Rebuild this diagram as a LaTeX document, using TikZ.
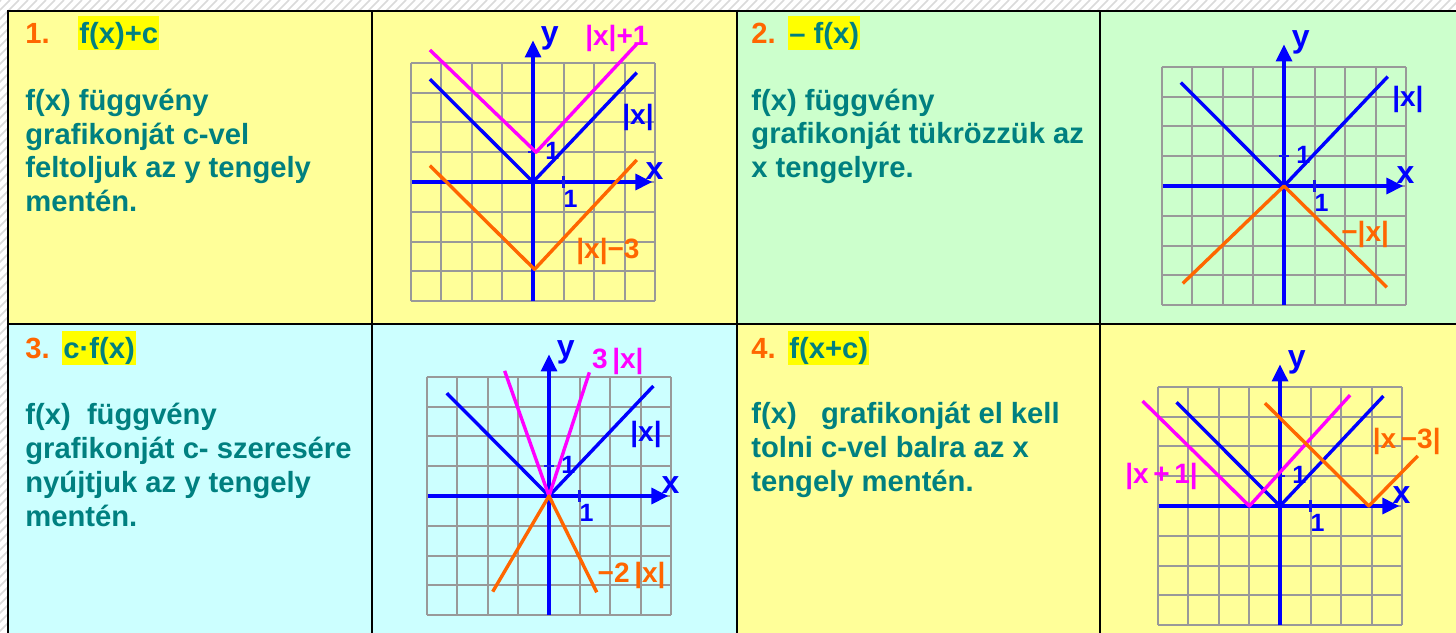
\documentclass[tikz,border=0pt]{standalone}
\usepackage{fontspec}
\setmainfont{Liberation Sans}
\usepackage{tikz}
\usetikzlibrary{arrows.meta, positioning}
\definecolor{cellyellow}{HTML}{FFFF99}
\definecolor{cellgreen}{HTML}{CCFFCC}
\definecolor{cellcyan}{HTML}{CCFFFF}
\definecolor{txtteal}{HTML}{008080}
\definecolor{numorange}{HTML}{FF6600}
\definecolor{hlyellow}{HTML}{FFFF00}
\definecolor{gridgray}{HTML}{999999}
\definecolor{hatchgray}{HTML}{DADADA}
\definecolor{plotblue}{HTML}{0000FF}
\definecolor{plotpink}{HTML}{FF00FF}
\definecolor{plotorange}{HTML}{FF6600}
\newcommand{\celltext}{\fontsize{14.6}{16.85}\selectfont\bfseries}
\tikzset{
  hatch/.style={hatchgray, line width=0.8pt},
  rule/.style={black, line width=1pt},
  num/.style={anchor=base west, inner sep=0pt, text=numorange, font=\celltext},
  hl/.style={anchor=base west, inner xsep=0.5pt, inner ysep=0pt, fill=hlyellow,
    text=txtteal, text height=13.5pt, text depth=3.25pt, font=\celltext},
  body/.style={anchor=base west, inner sep=0pt, align=left, text=txtteal, font=\celltext},
  gridline/.style={gridgray, line width=1pt},
  axis/.style={plotblue, line width=1.65pt, -{Triangle[length=8.5pt, width=8pt]}},
  tick/.style={plotblue!80!gray, line width=1.2pt},
  curve/.style={line width=1.7pt, line join=round},
  axlbl/.style={inner sep=0pt, text=plotblue, font=\fontsize{16}{16}\selectfont\bfseries},
  onelbl/.style={inner sep=0pt, text=plotblue, font=\fontsize{12.5}{12.5}\selectfont\bfseries},
  lbl/.style={inner sep=0pt, font=\fontsize{14}{14}\selectfont\bfseries}
}
% grid, axes and unit marks of one small plot
\newcommand{\plotframe}[1]{%
  \foreach \k in {-4,...,4} {
    \draw[gridline] (\k,-4) -- (\k,4);
    \draw[gridline] (-4,\k) -- (4,\k);
  }
  \draw[axis] (-3.97,0) -- (3.9,0);
  \draw[axis] (0,-4) -- (0,4.75);
  \draw[tick] (1,-0.2) -- (1,0.2);
  \draw[tick] (-0.17,1) -- (0.17,1);
  \node[axlbl] (#1-x) at (3.97,0.37) {x};
  \node[axlbl] (#1-y) at (0.55,4.83) {y};
  \node[onelbl] (#1-onex) at (1.23,-0.57) {1};
  \node[onelbl] (#1-oney) at (0.63,1.03) {1};
}
\begin{document}
\begin{tikzpicture}[x=0.5pt, y=-0.5pt]
\useasboundingbox (0,0) rectangle (1456,632);
\clip (0,0) rectangle (1456,632);

% Background hatching
\fill[white] (0,0) rectangle (1456,632);
\begin{scope}
  \clip (0,0) rectangle (1456,11) (0,0) rectangle (8,632);
  \foreach \i in {-640,-631,...,1460}
    \draw[hatch] (\i,632) -- ++(632,-632);
\end{scope}

% Table cells
\fill[cellyellow] (8,11) rectangle (737,324);
\fill[cellgreen] (737,11) rectangle (1460,324);
\fill[cellcyan] (8,324) rectangle (737,640);
\fill[cellyellow] (737,324) rectangle (1460,640);
\draw[rule] (8,640) -- (8,11) -- (1460,11);
\draw[rule] (8,324) -- (1460,324);
\foreach \cx in {372,737,1099.5}
  \draw[rule] (\cx,11) -- (\cx,640);

% Texts (body nodes sit on the baseline of their last line)
\node[num] (n1) at (25,43) {1.};
\node[hl] (h1) at (78,43) {f(x)+c};
\node[body] (b1) at (25,211.5) {f(x) függvény\\grafikonját c-vel\\feltoljuk az y tengely\\mentén.};

\node[num] (n2) at (751,43) {2.};
\node[hl] (h2) at (788,43) {– f(x)};
\node[body] (b2) at (751,177.5) {f(x) függvény\\grafikonját tükrözzük az\\x tengelyre.};

\node[num] (n3) at (25,358) {3.};
\node[hl] (h3) at (62,358) {c·f(x)};
\node[body] (b3) at (25,526) {f(x)\ \ függvény\\grafikonját c- szeresére\\nyújtjuk az y tengely\\mentén.};

\node[num] (n4) at (751,358) {4.};
\node[hl] (h4) at (788,358) {f(x+c)};
\node[body] (b4) at (751,491) {f(x)\ \ \ grafikonját el kell\\tolni c-vel balra az x\\tengely mentén.};

% Plot 1: f(x)+c
\begin{scope}[shift={(533,182)}, x=15.3pt, y=14.9pt]
  \plotframe{p1}
  \draw[curve, plotblue] (-3.37,3.45) -- (0,0) -- (3.39,3.67);
  \draw[curve, plotpink] (-3.37,4.43) -- (0.1,1) -- (3.39,4.63);
  \draw[curve, plotorange] (-3.37,0.55) -- (0.05,-2.93) -- (3.39,0.74);
  \node[lbl, text=plotpink] (p1-a) at (2.74,4.82) {|x|+1};
  \node[lbl, text=plotblue] (p1-b) at (3.43,2.15) {|x|};
  \node[lbl, text=plotorange] (p1-c) at (2.45,-2.34) {|x|−3};
\end{scope}

% Plot 2: -f(x)
\begin{scope}[shift={(1284,186)}, x=15.3pt, y=14.9pt]
  \plotframe{p2}
  \draw[curve, plotblue] (-3.37,3.47) -- (0,0) -- (3.39,3.67);
  \draw[curve, plotorange] (-3.31,-3.27) -- (0,0) -- (3.36,-3.4);
  \node[lbl, text=plotblue] (p2-b) at (4.05,2.89) {|x|};
  \node[lbl, text=plotorange] (p2-c) at (2.65,-1.64) {−|x|};
\end{scope}

% Plot 3: c f(x)
\begin{scope}[shift={(549,496)}, x=15.3pt, y=14.9pt]
  \plotframe{p3}
  \draw[curve, plotblue] (-3.34,3.45) -- (0,0) -- (3.41,3.69);
  \draw[curve, plotpink] (-1.45,4.2) -- (0,0) -- (1.32,4.15);
  \draw[curve, plotorange] (-1.84,-3.21) -- (0,0) -- (1.56,-3.23);
  \node[lbl, text=plotpink] (p3-a) at (2.25,4.51) {3\,|x|};
  \node[lbl, text=plotblue] (p3-b) at (3.17,2.07) {|x|};
  \node[lbl, text=plotorange] (p3-c) at (2.7,-2.65) {−2\,|x|};
\end{scope}

% Plot 4: f(x+c)
\begin{scope}[shift={(1280,506)}, x=15.3pt, y=14.9pt]
  \plotframe{p4}
  \draw[curve, plotblue] (-3.38,3.48) -- (0,0) -- (3.38,3.69);
  \draw[curve, plotpink] (-4.49,3.52) -- (-1,0) -- (2.29,3.72);
  \draw[curve, plotorange] (-0.49,3.45) -- (2.9,0) -- (4.5,1.68);
  \node[lbl, text=plotpink] (p4-a) at (-3.87,0.98) {|x\,+\,1|};
  \node[lbl, text=plotorange] (p4-c) at (4.14,2.16) {|x\,−3|};
\end{scope}

\end{tikzpicture}
\end{document}
